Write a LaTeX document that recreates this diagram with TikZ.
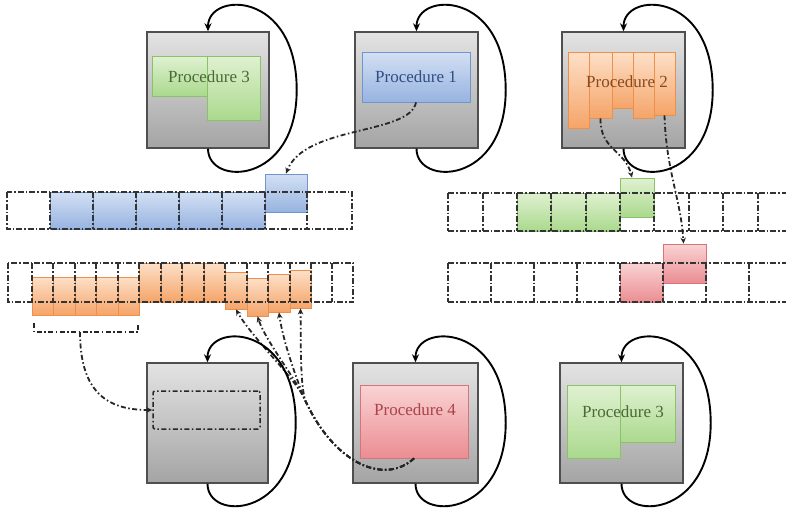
\documentclass[tikz,border=0pt]{standalone}
\usepackage{fontspec}
\setmainfont{Liberation Serif}
\usetikzlibrary{arrows.meta,fit,calc}
\definecolor{boxtop}{HTML}{E3E3E3}
\definecolor{boxbot}{HTML}{A4A4A4}
\definecolor{boxborder}{HTML}{4F4F4F}
\definecolor{bluetop}{HTML}{D3E0F4}
\definecolor{bluebot}{HTML}{97B3E0}
\definecolor{blueborder}{HTML}{7094CD}
\definecolor{bluetext}{HTML}{2F4F82}
\definecolor{greentop}{HTML}{E0F1D1}
\definecolor{greenbot}{HTML}{AAD98D}
\definecolor{greenborder}{HTML}{8AC26A}
\definecolor{greentext}{HTML}{4A6A35}
\definecolor{orangetop}{HTML}{FDE0C8}
\definecolor{orangebot}{HTML}{F5A468}
\definecolor{orangeborder}{HTML}{EF8F4C}
\definecolor{orangetext}{HTML}{8B4A1C}
\definecolor{redtop}{HTML}{F9D3D4}
\definecolor{redbot}{HTML}{EB8D92}
\definecolor{redborder}{HTML}{D67479}
\definecolor{redtext}{HTML}{A8444A}
\definecolor{ddcol}{HTML}{262626}
\definecolor{gridcol}{HTML}{333333}
\newcommand\cellbox[6]{\node[#1, fit={(#3,#4) (#5,#6)}] (#2) {};}
\begin{document}
\begin{tikzpicture}[x=1pt,y=-1pt,
  graybox/.style={draw=boxborder, line width=1.4pt, top color=boxtop, bottom color=boxbot, inner sep=0pt},
  bluecell/.style={draw=blueborder, line width=0.8pt, top color=bluetop, bottom color=bluebot, inner sep=0pt},
  greencell/.style={draw=greenborder, line width=0.8pt, top color=greentop, bottom color=greenbot, inner sep=0pt},
  orangecell/.style={draw=orangeborder, line width=0.8pt, top color=orangetop, bottom color=orangebot, inner sep=0pt},
  redcell/.style={draw=redborder, line width=0.8pt, top color=redtop, bottom color=redbot, inner sep=0pt},
  ddbox/.style={draw=ddcol, line width=1.5pt, dash pattern=on 5pt off 2.5pt on 1.5pt off 2.5pt, rounded corners=2pt, inner sep=0pt},
  ptext/.style={font=\fontsize{17}{20}\selectfont, inner sep=0pt},
  loopline/.style={line width=1.9pt, -{Stealth[length=8pt,width=7pt]}},
  dd/.style={line width=1.8pt, draw=ddcol, dash pattern=on 5pt off 2.5pt on 1.5pt off 2.5pt},
  ddarrow/.style={dd, -{Stealth[length=6pt,width=5.5pt]}},
  gridline/.style={line width=1.5pt, draw=gridcol, dash pattern=on 6pt off 2pt on 1.5pt off 2pt}
]
\useasboundingbox (0,0) rectangle (786,509);
\clip (0,0) rectangle (786,509);

% ---------- top row boxes ----------
\cellbox{graybox}{bA}{147}{32}{269}{148}
\cellbox{greencell}{gA1}{152}{56}{207}{96}
\cellbox{greencell}{gA2}{207}{56}{260}{120}
\node[ptext, text=greentext] (tA) at (209,77) {Procedure 3};

\cellbox{graybox}{bB}{355}{32}{478}{148}
\cellbox{bluecell}{pB}{362}{52}{470}{102}
\node[ptext, text=bluetext] (tB) at (416,77) {Procedure 1};

\cellbox{graybox}{bC}{562}{32}{685}{148}
\cellbox{orangecell}{oC1}{568}{52}{589}{128}
\cellbox{orangecell}{oC2}{589}{52}{612}{118}
\cellbox{orangecell}{oC3}{612}{52}{633}{108}
\cellbox{orangecell}{oC4}{633}{52}{654}{118}
\cellbox{orangecell}{oC5}{654}{52}{675}{115}
\node[ptext, text=orangetext] (tC) at (627,82) {Procedure 2};

% ---------- bottom row boxes ----------
\cellbox{graybox}{bD}{147}{363}{268}{483}
\cellbox{ddbox}{inD}{153}{391}{260}{429}

\cellbox{graybox}{bE}{353}{363}{478}{483}
\cellbox{redcell}{pE}{360}{385}{468}{458}
\node[ptext, text=redtext] (tE) at (415,410) {Procedure 4};

\cellbox{graybox}{bF}{560}{363}{683}{483}
\cellbox{greencell}{gF1}{567}{385}{620}{458}
\cellbox{greencell}{gF2}{620}{385}{675}{442}
\node[ptext, text=greentext] (tF) at (623,412) {Procedure 3};

% ---------- left top array ----------
\foreach \a/\b [count=\i] in {50/93,93/136,136/179,179/222,222/265}
  {\cellbox{bluecell}{lb\i}{\a}{192}{\b}{229}}
\cellbox{bluecell}{nb}{265}{174}{307}{212}
\draw[gridline] (7,192) rectangle (352,229);
\foreach \x in {50,93,136,179,222,265,307}
  \draw[gridline] (\x,192) -- (\x,229);

% ---------- left bottom array ----------
\foreach \a/\b [count=\i] in {32/53,53/75,75/96,96/118,118/139}
  {\cellbox{orangecell}{la\i}{\a}{277}{\b}{315}}
\foreach \a/\b [count=\i] in {139/161,161/182,182/204,204/225}
  {\cellbox{orangecell}{lc\i}{\a}{263}{\b}{302}}
\cellbox{orangecell}{o1}{225}{272}{247}{309}
\cellbox{orangecell}{o2}{247}{278}{268}{316}
\cellbox{orangecell}{o3}{268}{274}{290}{312}
\cellbox{orangecell}{o4}{290}{270}{311}{308}
\draw[gridline] (8,263) rectangle (353,302);
\foreach \x in {32,53,75,96,118,139,161,182,204,225,247,268,290,311,332}
  \draw[gridline] (\x,263) -- (\x,302);
\draw[dd] (34,323) -- (34,332) -- (138,332) -- (138,323);
\coordinate (brk) at (80,332);

% ---------- right top array ----------
\foreach \a/\b [count=\i] in {517/551,551/586,586/620}
  {\cellbox{greencell}{rg\i}{\a}{193}{\b}{231}}
\cellbox{greencell}{ng}{620}{178}{654}{217}
\draw[gridline] (448,193) -- (800,193) (448,231) -- (800,231);
\foreach \x in {448,483,517,551,586,620,654,689,723,758}
  \draw[gridline] (\x,193) -- (\x,231);

% ---------- right bottom array ----------
\cellbox{redcell}{rr1}{620}{263}{663}{302}
\cellbox{redcell}{nr}{663}{244}{706}{283}
\draw[gridline] (448,263) -- (800,263) (448,302) -- (800,302);
\foreach \x in {448,491,534,577,620,663,706,749}
  \draw[gridline] (\x,263) -- (\x,302);

% ---------- dash-dot connectors ----------
\draw[ddarrow] (pB.south) .. controls (410,135) and (305,125) .. (nb.north);
\draw[ddarrow] (oC2.south) .. controls (600,150) and (625,150) .. ($(ng.north)+(-5,0)$);
\draw[ddarrow] (oC5.south) .. controls (666,170) and (681,200) .. ($(nr.north)+(-1,0)$);
\draw[ddarrow] (brk) .. controls (80,395) and (110,410) .. (inD.west);
\draw[ddarrow] (pE.south) .. controls (385,485) and (335,465) .. (305,400)
   .. controls (297,380) and (252,338) .. (o1.south);
\draw[ddarrow] (pE.south) .. controls (385,485) and (335,465) .. (305,400)
   .. controls (297,380) and (266,342) .. (o2.south);
\draw[ddarrow] (pE.south) .. controls (385,485) and (335,465) .. (305,400)
   .. controls (297,380) and (283,342) .. (o3.south);
\draw[ddarrow] (pE.south) .. controls (385,485) and (335,465) .. (305,400)
   .. controls (300,380) and (301,345) .. (o4.south);

% ---------- loops ----------
\foreach \b in {bA,bB,bC,bD,bE,bF}
  \draw[loopline] (\b.south) .. controls +(0,38) and +(0,95) .. ($(\b.east)+(27,0)$)
     .. controls +(0,-100) and +(0,-40) .. (\b.north);
\end{tikzpicture}
\end{document}
